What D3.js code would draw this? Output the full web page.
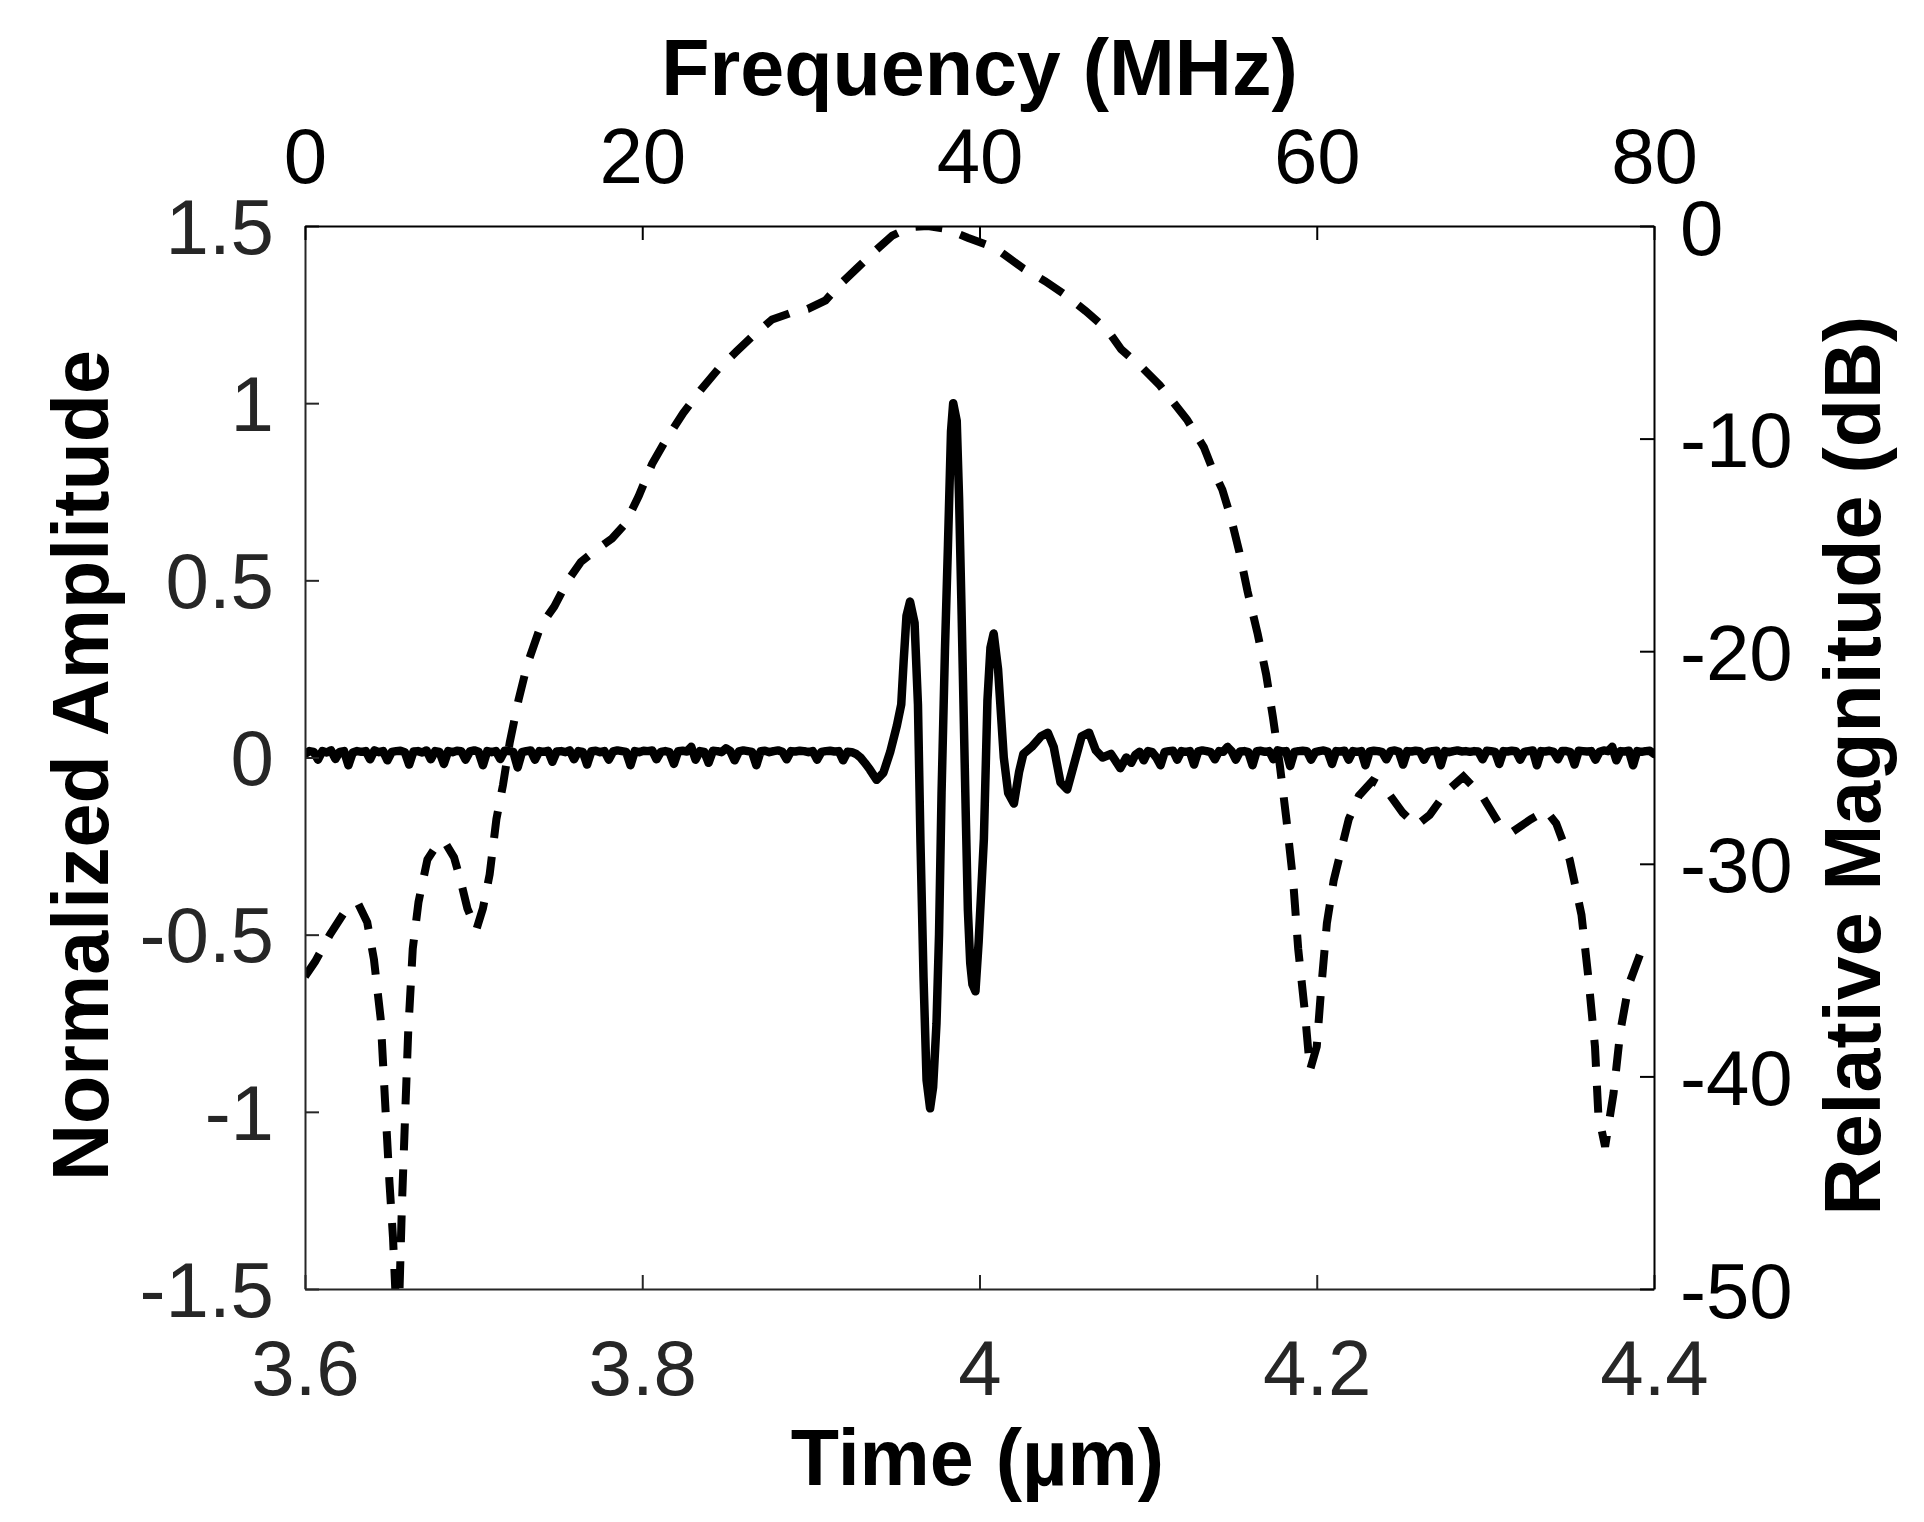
<!DOCTYPE html>
<html>
<head>
<meta charset="utf-8">
<script src="https://cdn.jsdelivr.net/npm/d3@7"></script>
<style>
  body { margin: 0; background: #fff; }
  text { font-family: "Liberation Sans", Arial, sans-serif; }
</style>
</head>
<body>
<div class="canvas"></div>
<script>
// ---- data ----
// time-domain pulse: baseline noise before and after the echo (amplitude), sampled evenly over a span
const noiseBefore = [0.01, 0.018, 0.016, -0.006, 0.018, 0.014, 0.02, -0.004, 0.016, 0.018, -0.022, 0.014, 0.018, 0.016,
  0.018, -0.005, 0.02, 0.015, 0.018, -0.008, 0.016, 0.018, 0.019, 0.015, -0.02, 0.017, 0.018, 0.014, 0.02, -0.005, 0.018,
  0.016, -0.018, 0.018, 0.015, 0.019, 0.018, -0.006, 0.017, 0.02, 0.016, -0.022, 0.018, 0.015, 0.018, -0.004, 0.019, 0.018,
  0.016, -0.028, 0.015, 0.018, 0.02, -0.006, 0.018, 0.016, 0.019, -0.012, 0.017, 0.018, 0.015, 0.02, -0.005, 0.018, 0.016,
  -0.02, 0.018, 0.019, 0.015, 0.018, -0.006, 0.017, 0.02, 0.018, 0.016, -0.022, 0.018, 0.015, 0.019, 0.018, 0.02, -0.005,
  0.016, 0.018, 0.015, -0.018, 0.018, 0.019, 0.017, 0.03, -0.006, 0.018, 0.016, -0.015, 0.019, 0.018, 0.015, 0.026, 0.018,
  -0.008, 0.017, 0.02, 0.018, 0.016, -0.022, 0.018, 0.019, 0.015, 0.018, 0.02, 0.016, -0.005, 0.018, 0.017, 0.019, 0.018,
  0.015, 0.018, -0.006, 0.016, 0.018, 0.019, 0.017, 0.018, -0.008, 0.016, 0.015, 0.01, 0.0, -0.015];
const noiseBeforeSpan = [3.600, 3.932];

const noiseAfter = [-0.015, 0.008, 0.016, -0.008, 0.018, 0.015, 0.0, -0.022, 0.016, 0.018, 0.019, -0.006, 0.018, 0.016,
  0.018, -0.02, 0.017, 0.02, 0.018, 0.015, -0.005, 0.018, 0.016, 0.03, 0.018, -0.006, 0.017, 0.018, 0.015, -0.022, 0.018,
  0.019, 0.016, 0.018, -0.005, 0.02, 0.017, 0.018, -0.024, 0.016, 0.018, 0.019, 0.018, -0.006, 0.015, 0.018, 0.02, 0.016,
  -0.018, 0.018, 0.017, 0.019, -0.006, 0.018, 0.016, 0.018, -0.022, 0.017, 0.019, 0.018, 0.015, -0.005, 0.018, 0.02, 0.016,
  -0.02, 0.018, 0.017, 0.019, 0.018, -0.006, 0.016, 0.018, 0.019, -0.022, 0.018, 0.015, 0.018, 0.02, 0.017, 0.018, 0.016,
  0.018, 0.017, -0.005, 0.019, 0.018, 0.016, -0.018, 0.018, 0.017, 0.019, 0.018, -0.006, 0.016, 0.018, 0.02, -0.022, 0.018,
  0.017, 0.019, 0.016, -0.005, 0.018, 0.018, 0.015, -0.02, 0.019, 0.018, 0.017, 0.018, -0.006, 0.016, 0.02, 0.018, 0.03,
  -0.008, 0.018, 0.017, 0.019, -0.022, 0.018, 0.016, 0.018, 0.019, 0.01];
const noiseAfterSpan = [4.090, 4.400];

// the echo itself: [time (µs), normalized amplitude]
const echo = [
  [3.935, -0.034], [3.939, -0.063], [3.943, -0.043], [3.947, 0.015], [3.951, 0.09], [3.9536, 0.15], [3.955, 0.27],
  [3.9567, 0.40], [3.9588, 0.44], [3.9615, 0.38], [3.9635, 0.15], [3.965, -0.24], [3.9668, -0.62], [3.9686, -0.91],
  [3.9707, -0.99], [3.9725, -0.93], [3.9745, -0.75], [3.976, -0.5], [3.9775, -0.1], [3.9795, 0.3], [3.9813, 0.6],
  [3.9831, 0.92], [3.9844, 1.0], [3.9865, 0.95], [3.9879, 0.73], [3.9892, 0.45], [3.9905, 0.15], [3.9918, -0.15],
  [3.9931, -0.43], [3.9945, -0.58], [3.9958, -0.64], [3.9976, -0.66], [3.9995, -0.52], [4.0026, -0.23], [4.0047, 0.16],
  [4.0065, 0.31], [4.0084, 0.35], [4.011, 0.25], [4.0144, 0.0], [4.017, -0.10], [4.0204, -0.13], [4.0235, -0.04],
  [4.026, 0.01], [4.031, 0.03], [4.0365, 0.06], [4.0405, 0.07], [4.044, 0.03], [4.048, -0.07], [4.052, -0.09],
  [4.056, -0.02], [4.0606, 0.06], [4.065, 0.07], [4.069, 0.02], [4.073, 0.0], [4.078, 0.01], [4.0835, -0.03], [4.087, 0.0]
];

// spectrum: frequency (MHz) and relative magnitude (dB)
const freq = [0, 0.6, 1.5, 2.4, 3.17, 3.69, 4.09, 4.49, 4.75, 5.01, 5.22, 5.38, 5.5, 5.59, 5.75, 5.94, 6.12, 6.39, 6.73,
  7.26, 7.92, 8.31, 8.84, 9.23, 9.63, 10.16, 10.55, 10.95, 11.35, 11.74, 12.14, 12.66, 13.19, 13.98, 14.78, 15.57, 16.36,
  17.15, 18.21, 19.0, 19.79, 20.58, 21.37, 22.43, 23.48, 24.54, 25.59, 26.65, 27.7, 28.76, 29.82, 30.87, 31.66, 32.72,
  33.77, 34.83, 35.88, 36.94, 38.0, 39.3, 40.5, 41.0, 42.6, 43.9, 45.2, 46.3, 47.6, 48.4, 49.7, 50.7, 51.5, 52.3, 53.3,
  53.8, 54.4, 54.9, 55.4, 55.9, 56.5, 57.0, 57.4, 57.8, 58.2, 58.6, 58.9, 59.3, 59.6, 60.0, 60.25, 60.6, 61.0, 61.4, 61.9,
  62.5, 63.3, 64.0, 65.1, 65.9, 66.7, 67.7, 68.7, 69.8, 70.8, 71.6, 72.7, 73.6, 74.2, 75.0, 75.7, 76.1, 76.5, 76.7, 77.1,
  77.6, 78.0, 78.5, 79.2, 79.9];
const magnitude = [-35.3, -34.6, -33.3, -32.2, -31.9, -32.75, -34.5, -37.3, -41.2, -45.0, -47.6, -50.5, -56, -50.5, -46.0,
  -41.8, -37.9, -34.0, -31.8, -29.8, -29.0, -29.0, -29.7, -30.8, -32.1, -33.1, -32.1, -30.5, -27.9, -26.3, -24.3, -22.3,
  -20.6, -18.8, -17.9, -16.7, -15.8, -15.3, -14.7, -14.0, -12.7, -11.2, -10.1, -8.8, -7.7, -6.7, -5.9, -5.1, -4.4, -4.1,
  -3.9, -3.5, -2.8, -2.0, -1.2, -0.45, -0.06, 0, -0.13, -0.55, -0.9, -1.07, -2.0, -2.6, -3.3, -4.0, -4.9, -5.8, -6.7,
  -7.5, -8.3, -9.1, -10.4, -11.4, -12.4, -13.7, -15.3, -17.2, -19.2, -21.1, -23.1, -25.3, -27.9, -30.8, -34.0, -37.0,
  -39.7, -38.6, -36.0, -32.8, -30.8, -29.5, -27.9, -26.8, -26.1, -26.4, -27.6, -28.2, -27.7, -26.6, -25.9, -26.8, -28.1,
  -28.5, -27.9, -27.5, -28.1, -29.8, -32.4, -35.3, -38.6, -41.8, -43.3, -40.8, -37.9, -35.7, -34.2, -33.7];

// ticks
const timeTicks = [3.6, 3.8, 4.0, 4.2, 4.4];
const timeTickLabels = ['3.6', '3.8', '4', '4.2', '4.4'];
const ampTicks = [-1.5, -1, -0.5, 0, 0.5, 1, 1.5];
const ampTickLabels = ['-1.5', '-1', '-0.5', '0', '0.5', '1', '1.5'];
const freqTicks = [0, 20, 40, 60, 80];
const dbTicks = [-50, -40, -30, -20, -10, 0];

// ---- layout ----
const width = 1924, height = 1522;
const plot = { left: 305, right: 1654, top: 226, bottom: 1289 };
const axisGrey = '#262626';

const svg = d3.select('.canvas')
  .append('svg')
  .attr('width', width)
  .attr('height', height);

svg.append('rect').attr('width', width).attr('height', height).attr('fill', '#fff');

const x = d3.scaleLinear().domain([3.6, 4.4]).range([plot.left, plot.right]);
const xf = d3.scaleLinear().domain([0, 80]).range([plot.left, plot.right]);
const y = d3.scaleLinear().domain([-1.5, 1.5]).range([plot.bottom, plot.top]);
const ydb = d3.scaleLinear().domain([-50, 0]).range([plot.bottom, plot.top]);

svg.append('clipPath').attr('id', 'plotclip')
  .append('rect')
  .attr('x', plot.left).attr('y', plot.top)
  .attr('width', plot.right - plot.left).attr('height', plot.bottom - plot.top);

// build the time trace
const spread = (vals, span) => vals.map((v, i) => [span[0] + i * (span[1] - span[0]) / (vals.length - 1), v]);
const trace = spread(noiseBefore, noiseBeforeSpan).concat(echo, spread(noiseAfter, noiseAfterSpan));
const spectrum = freq.map((f, i) => [f, magnitude[i]]);

const lines = svg.append('g').attr('clip-path', 'url(#plotclip)');

lines.append('path')
  .datum(spectrum)
  .attr('fill', 'none')
  .attr('stroke', '#000')
  .attr('stroke-width', 8)
  .attr('stroke-dasharray', '27,19')
  .attr('d', d3.line().x(d => xf(d[0])).y(d => ydb(d[1])));

lines.append('path')
  .datum(trace)
  .attr('fill', 'none')
  .attr('stroke', '#000')
  .attr('stroke-width', 8.5)
  .attr('stroke-linejoin', 'round')
  .attr('stroke-linecap', 'round')
  .attr('d', d3.line().x(d => x(d[0])).y(d => y(d[1])));

// ---- axes (ticks point inward, MATLAB style) ----
const tickFont = 78, labelFont = 79;

const bottomAxis = svg.append('g')
  .attr('transform', `translate(0, ${plot.bottom})`)
  .call(d3.axisBottom(x).tickValues(timeTicks).tickFormat((d, i) => timeTickLabels[i])
    .tickSizeInner(-14).tickSizeOuter(0));
bottomAxis.selectAll('text').attr('y', 106).attr('dy', 0);

const leftAxis = svg.append('g')
  .attr('transform', `translate(${plot.left}, 0)`)
  .call(d3.axisLeft(y).tickValues(ampTicks).tickFormat((d, i) => ampTickLabels[i])
    .tickSizeInner(-14).tickSizeOuter(0));
leftAxis.selectAll('text').attr('x', -31).attr('dy', '0.35em');

const topAxis = svg.append('g')
  .attr('transform', `translate(0, ${plot.top})`)
  .call(d3.axisTop(xf).tickValues(freqTicks).tickFormat(d3.format('d'))
    .tickSizeInner(-14).tickSizeOuter(0));
topAxis.selectAll('text').attr('y', -43).attr('dy', 0);

const rightAxis = svg.append('g')
  .attr('transform', `translate(${plot.right}, 0)`)
  .call(d3.axisRight(ydb).tickValues(dbTicks).tickFormat(d => d < 0 ? '-' + Math.abs(d) : '' + d)
    .tickSizeInner(-14).tickSizeOuter(0));
rightAxis.selectAll('text').attr('x', 26).attr('dy', '0.36em');

[[bottomAxis, axisGrey], [leftAxis, axisGrey], [topAxis, '#000'], [rightAxis, '#000']].forEach(([g, c]) => {
  g.attr('font-size', null).attr('font-family', null);
  g.select('.domain').attr('stroke', c).attr('stroke-width', 2);
  g.selectAll('.tick line').attr('stroke', c).attr('stroke-width', 2);
  g.selectAll('text').attr('fill', c).style('font-size', tickFont + 'px');
});

// ---- axis titles ----
const midX = (plot.left + plot.right) / 2;
const midY = (plot.top + plot.bottom) / 2 + 8;

svg.append('text')
  .attr('x', midX).attr('y', 95)
  .attr('text-anchor', 'middle')
  .style('font-size', labelFont + 'px').style('font-weight', 'bold')
  .text('Frequency (MHz)');

svg.append('text')
  .attr('x', midX - 2).attr('y', 1485)
  .attr('text-anchor', 'middle')
  .style('font-size', labelFont + 'px').style('font-weight', 'bold')
  .text('Time (µm)');

svg.append('text')
  .attr('transform', `translate(108, ${midY}) rotate(-90)`)
  .attr('text-anchor', 'middle')
  .style('font-size', labelFont + 'px').style('font-weight', 'bold')
  .text('Normalized Amplitude');

svg.append('text')
  .attr('transform', `translate(1880, ${midY}) rotate(-90)`)
  .attr('text-anchor', 'middle')
  .style('font-size', labelFont + 'px').style('font-weight', 'bold')
  .text('Relative Magnitude (dB)');
</script>
</body>
</html>
